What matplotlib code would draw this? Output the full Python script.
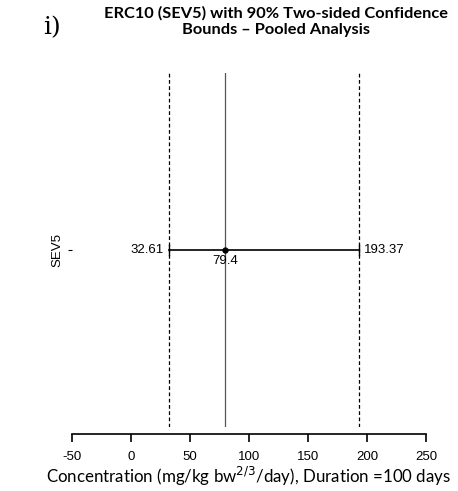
import matplotlib
matplotlib.use('Agg')
import matplotlib.pyplot as plt

# data
group = 'SEV5'
estimate = 79.4
lower = 32.61
upper = 193.37
x_ticks = [-50, 0, 50, 100, 150, 200, 250]

fig = plt.figure(figsize=(4.58, 4.91), dpi=100)
ax = fig.add_axes([72 / 458, 1 - 427 / 491, 354 / 458, 354 / 491])

ax.set_xlim(-50, 250)
ax.set_ylim(0.5, 1.5)

# bound lines
ax.axvline(lower, color='black', ls=(0, (3, 2)), lw=0.9)
ax.axvline(upper, color='black', ls=(0, (3, 2)), lw=0.9)
ax.axvline(estimate, color='#555555', lw=0.9)

# confidence interval
ax.plot([lower, upper], [1, 1], color='black', lw=1.2)
ax.plot([lower, lower], [0.985, 1.015], color='black', lw=1)
ax.plot([upper, upper], [0.985, 1.015], color='black', lw=1)
ax.plot([estimate], [1], 'o', color='black', ms=3.5)

ax.text(lower - 5, 1.0, '%.2f' % lower, ha='right', va='center',
        fontsize=9.5, family='Liberation Sans')
ax.text(upper + 4, 1.0, '%.2f' % upper, ha='left', va='center',
        fontsize=9.5, family='Liberation Sans')
ax.text(estimate, 0.985, '%.1f' % estimate, ha='center', va='top',
        fontsize=9.5, family='Liberation Sans')

for s in ['top', 'right', 'left']:
    ax.spines[s].set_visible(False)
ax.spines['bottom'].set_position(('outward', 5))
ax.spines['bottom'].set_linewidth(1.2)

ax.set_xticks(x_ticks)
ax.set_xticklabels([str(t) for t in x_ticks], fontsize=9.5, family='Liberation Sans')
ax.tick_params(axis='x', length=6, width=1.2, pad=6)
ax.set_yticks([1])
ax.set_yticklabels([group], rotation=90, va='center', fontsize=9.5,
                   family='Liberation Sans')
ax.tick_params(axis='y', length=3, width=0.8, pad=3)

# x axis title placed on the figure so it stays inside the canvas
fig.text(0.543, 0.006, 'Concentration (mg/kg bw$^{2/3}$/day), Duration =100 days',
         ha='center', va='bottom', fontsize=12.2, family='Lato')

fig.text(0.603, 0.988, 'ERC10 (SEV5) with 90% Two-sided Confidence\nBounds \u2013 Pooled Analysis',
         ha='center', va='top', fontsize=11.8, fontweight='bold', family='Lato',
         linespacing=1.25)
fig.text(0.095, 0.943, 'i)', ha='left', va='center', fontsize=18, family='DejaVu Serif')

fig.savefig('out.png', dpi=100)
